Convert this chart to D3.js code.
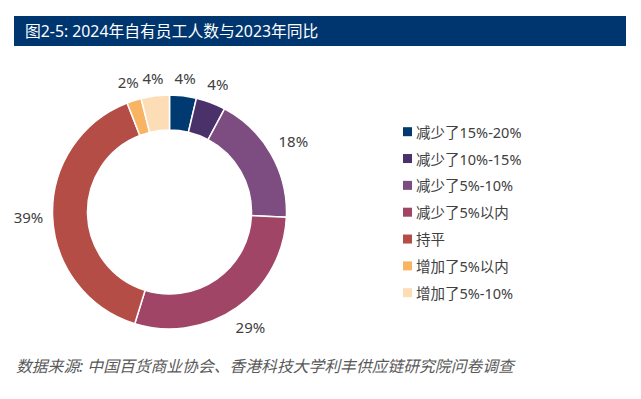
<!DOCTYPE html>
<html>
<head>
<meta charset="utf-8">
<script src="https://cdn.jsdelivr.net/npm/d3@7"></script>
<style>
  body { margin: 0; background: #fff; }
  text { font-family: "Noto Sans", "Noto Sans CJK SC", sans-serif; }
</style>
</head>
<body>
<div id="chart"></div>
<script>
// Dados do gráfico
const categories = ['减少了15%-20%', '减少了10%-15%', '减少了5%-10%', '减少了5%以内', '持平', '增加了5%以内', '增加了5%-10%'];
const values = [3.7, 4.1, 17.9, 29.1, 39.3, 2.0, 3.9];
const colors = ['#003A70', '#4A3169', '#7D4C81', '#A04565', '#B54D47', '#F9B463', '#FDDDB6'];
const title = '图2-5: 2024年自有员工人数与2023年同比';
const source = '数据来源: 中国百货商业协会、香港科技大学利丰供应链研究院问卷调查';

const width = 641, height = 399;

const svg = d3.select('#chart')
  .append('svg')
  .attr('width', width)
  .attr('height', height);

// Barra do título
svg.append('rect')
  .attr('x', 14)
  .attr('y', 16)
  .attr('width', 612)
  .attr('height', 30)
  .attr('fill', '#003670');

svg.append('text')
  .attr('x', 25)
  .attr('y', 31)
  .attr('dominant-baseline', 'central')
  .attr('fill', '#fff')
  .attr('font-size', '15.8px')
  .text(title);

// Rosca
const cx = 169.5, cy = 212;
const outerR = 117, innerR = 82;

const pie = d3.pie().sort(null).value(d => d);
const arcs = pie(values);
const arc = d3.arc().innerRadius(innerR).outerRadius(outerR);

const g = svg.append('g').attr('transform', `translate(${cx},${cy})`);

g.selectAll('path')
  .data(arcs)
  .enter()
  .append('path')
  .attr('d', arc)
  .attr('fill', (d, i) => colors[i])
  .attr('stroke', '#fff')
  .attr('stroke-width', 1.5);

// Rótulos de porcentagem (fora da rosca)
const labelSize = 15;
g.selectAll('text.pct')
  .data(arcs)
  .enter()
  .append('text')
  .attr('class', 'pct')
  .attr('text-anchor', 'middle')
  .attr('dominant-baseline', 'central')
  .attr('font-size', labelSize + 'px')
  .attr('fill', '#404040')
  .text(d => Math.round(d.value) + '%')
  .each(function (d) {
    const a = (d.startAngle + d.endAngle) / 2;
    const w = this.getComputedTextLength();
    const r = outerR + 9 + Math.abs(Math.sin(a)) * w / 2 + Math.abs(Math.cos(a)) * labelSize / 2;
    d3.select(this)
      .attr('x', Math.sin(a) * r)
      .attr('y', -Math.cos(a) * r);
  });

// Legenda
const legend = svg.append('g');
const rowY = d3.scaleLinear().domain([0, categories.length - 1]).range([131.7, 292.7]);

legend.selectAll('rect')
  .data(categories)
  .enter()
  .append('rect')
  .attr('x', 403)
  .attr('y', (d, i) => rowY(i) - 4.5)
  .attr('width', 9)
  .attr('height', 9)
  .attr('fill', (d, i) => colors[i]);

legend.selectAll('text')
  .data(categories)
  .enter()
  .append('text')
  .attr('x', 416)
  .attr('y', (d, i) => rowY(i))
  .attr('dominant-baseline', 'central')
  .attr('font-size', '14.5px')
  .attr('fill', '#404040')
  .text(d => d);

// Fonte
svg.append('text')
  .attr('x', 16)
  .attr('y', 366)
  .attr('dominant-baseline', 'central')
  .attr('font-size', '15.8px')
  .attr('font-style', 'italic')
  .attr('fill', '#595959')
  .text(source);
</script>
</body>
</html>
